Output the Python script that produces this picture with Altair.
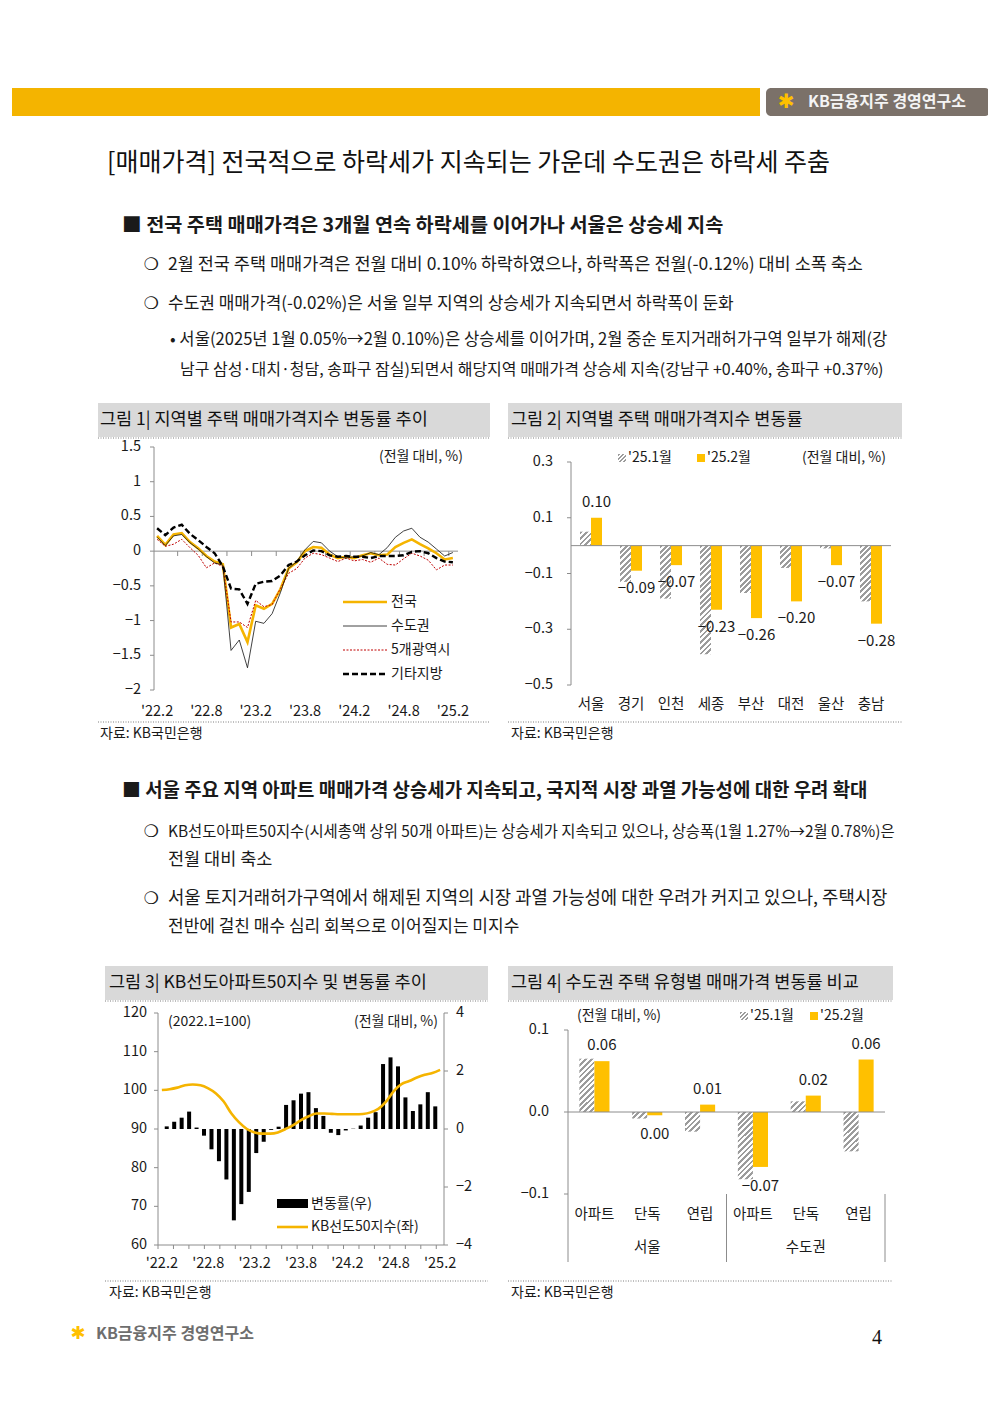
import altair as alt
import pandas as pd

FONT = "Noto Sans CJK KR"
W, H = 980, 1380
INK = "#1a1a1a"
AXIS = "#8c8c8c"
GOLD_BAR = "#FFC000"
GOLD_LINE = "#F5B400"
HATCH_INK = "#9c9c9c"

# ------------------------------------------------------------------ data
# Figure 1: regional house price change (% m/m), '22.2 .. '25.2
fig1_nat = [0.22, 0.09, 0.24, 0.26, 0.13, 0.04, -0.07, -0.15, -0.19, -1.10, -1.05, -1.31,
            -0.78, -0.83, -0.76, -0.55, -0.25, -0.16, 0.00, 0.06, 0.05, -0.05, -0.10, -0.08,
            -0.10, -0.06, -0.03, -0.06, -0.05, 0.06, 0.12, 0.17, 0.10, 0.04, -0.03, -0.12, -0.10]
fig1_cap = [0.20, 0.08, 0.22, 0.24, 0.12, 0.03, -0.08, -0.17, -0.20, -1.43, -1.28, -1.68,
            -1.01, -1.04, -0.90, -0.60, -0.25, -0.15, 0.02, 0.14, 0.12, 0.00, -0.08, -0.10,
            -0.08, -0.07, -0.02, -0.05, 0.05, 0.20, 0.29, 0.33, 0.20, 0.13, 0.03, -0.07, -0.02]
fig1_metro = [0.17, 0.07, 0.10, 0.17, 0.05, -0.06, -0.24, -0.17, -0.22, -1.02, -1.02, -1.10,
              -0.71, -0.80, -0.77, -0.54, -0.32, -0.25, -0.10, -0.03, -0.05, -0.10, -0.15, -0.10,
              -0.14, -0.12, -0.16, -0.10, -0.19, -0.20, -0.11, -0.03, -0.07, -0.13, -0.27, -0.20, -0.20]
fig1_other = [0.33, 0.23, 0.34, 0.38, 0.25, 0.16, 0.06, -0.03, -0.22, -0.54, -0.55, -0.76,
              -0.47, -0.44, -0.43, -0.35, -0.20, -0.15, -0.06, 0.01, 0.00, -0.06, -0.08, -0.07,
              -0.08, -0.08, -0.10, -0.07, -0.07, -0.07, -0.06, -0.01, 0.00, -0.03, -0.10, -0.15, -0.16]
month_idx = list(range(len(fig1_nat)))          # 0 = '22.2 ... 36 = '25.2
xtick_idx = [0, 6, 12, 18, 24, 30, 36]
xtick_lab = ["'22.2", "'22.8", "'23.2", "'23.8", "'24.2", "'24.8", "'25.2"]
fig1_yticks = [1.5, 1, 0.5, 0, -0.5, -1, -1.5, -2]
fig1_ylabs = ["1.5", "1", "0.5", "0", "−0.5", "−1", "−1.5", "−2"]
fig1_minor = [2.5, 5.5, 8.5, 11.5, 14.5, 17.5, 20.5, 23.5, 26.5, 29.5, 32.5, 35.5]

# Figure 2: regional change, Jan vs Feb 2025
SER = ["'25.1월", "'25.2월"]
fig2_regions = ["서울", "경기", "인천", "세종", "부산", "대전", "울산", "충남"]
fig2_jan = [0.05, -0.13, -0.19, -0.39, -0.17, -0.08, -0.01, -0.20]
fig2_feb = [0.10, -0.09, -0.07, -0.23, -0.26, -0.20, -0.07, -0.28]
fig2_yticks = [0.3, 0.1, -0.1, -0.3, -0.5]
fig2_ylabs = ["0.3", "0.1", "−0.1", "−0.3", "−0.5"]

# Figure 3: KB 선도아파트50 index and monthly change
fig3_change = [0.09, 0.25, 0.39, 0.60, 0.05, -0.23, -0.70, -1.11, -1.74, -3.15, -2.59, -2.17,
               -0.83, -0.44, -0.03, 0.08, 0.83, 0.99, 1.22, 1.27, 0.72, 0.45, -0.13, -0.21,
               -0.05, 0.01, 0.12, 0.39, 0.58, 2.24, 2.47, 2.16, 1.09, 0.62, 0.85, 1.27, 0.78]
fig3_index = [100.1, 100.3, 100.7, 101.3, 101.5, 101.3, 100.5, 99.2, 97.1, 94.0, 91.7, 90.0,
              89.1, 88.8, 88.8, 89.1, 90.0, 91.0, 92.3, 93.3, 94.0, 94.0, 93.9, 93.8,
              93.8, 93.8, 93.9, 94.3, 95.2, 97.1, 99.8, 101.6, 102.4, 103.3, 104.0, 104.5, 105.3]
fig3_lticks = [120, 110, 100, 90, 80, 70, 60]
fig3_rticks = [4, 2, 0, -2, -4]
fig3_rlabs = ["4", "2", "0", "−2", "−4"]
fig3_minor = [-0.5, 1.5, 3.5, 5.5, 7.5, 9.5, 11.5, 13.5, 15.5, 17.5, 19.5, 21.5, 23.5,
              25.5, 27.5, 29.5, 31.5, 33.5, 35.5]

# Figure 4: capital-area change by housing type
fig4_cats = ["서울 아파트", "서울 단독", "서울 연립", "수도권 아파트", "수도권 단독", "수도권 연립"]
fig4_types = ["아파트", "단독", "연립", "아파트", "단독", "연립"]
fig4_groups = ["서울", "수도권"]
fig4_group_pos = [1.5, 4.5]
fig4_seps = [3, 6]
fig4_jan = [0.065, -0.008, -0.024, -0.082, 0.013, -0.048]
fig4_feb = [0.062, -0.004, 0.009, -0.067, 0.020, 0.064]
fig4_yticks = [0.1, 0.0, -0.1]
fig4_ylabs = ["0.1", "0.0", "−0.1"]

# ------------------------------------------------------------------ helpers
ONE = pd.DataFrame({"k": [0]})


def P(v):
    """page pixel -> canvas pixel (8px page margin)"""
    return v - 8


def txt(s, x, y, size=14, color=INK, weight="normal", align="left", font=FONT, baseline="middle"):
    return alt.Chart(ONE).mark_text(text=s, fontSize=size, font=font, color=color,
                                    fontWeight=weight, align=align, baseline=baseline).encode(
        x=alt.value(P(x)), y=alt.value(P(y)))


def box(x1, y1, x2, y2, color, **kw):
    return alt.Chart(ONE).mark_rect(color=color, **kw).encode(
        x=alt.value(P(x1)), x2=alt.value(P(x2)), y=alt.value(P(y1)), y2=alt.value(P(y2)))


def seg(x1, y1, x2, y2, color, width=1.0, dash=None):
    kw = dict(color=color, strokeWidth=width)
    if dash:
        kw["strokeDash"] = dash
    return alt.Chart(ONE).mark_rule(**kw).encode(
        x=alt.value(P(x1)), x2=alt.value(P(x2)), y=alt.value(P(y1)), y2=alt.value(P(y2)))


def hatch(w, h, period=4.0):
    """diagonal '////' stripe fill for a w x h pixel box, built as a hard-stop linear gradient"""
    h = max(h, 0.5)
    k = h / w
    s = (1 + k) / (1 + k * k)
    total = (w + h) / 2 ** 0.5
    stops = []
    pos = 0.0
    while pos < total:
        a = pos / total
        b = min(pos + period * 0.5, total) / total
        c = min(pos + period, total) / total
        stops += [alt.GradientStop(color=HATCH_INK, offset=a), alt.GradientStop(color=HATCH_INK, offset=b),
                  alt.GradientStop(color="#ffffff", offset=b), alt.GradientStop(color="#ffffff", offset=c)]
        pos += period
    return alt.LinearGradient(gradient="linear", stops=stops, x1=0, y1=0, x2=s, y2=s * k)


def hatch_box(x1, y1, x2, y2):
    return alt.Chart(ONE).mark_rect(color=hatch(x2 - x1, y2 - y1, 3.0)).encode(
        x=alt.value(P(x1)), x2=alt.value(P(x2)), y=alt.value(P(y1)), y2=alt.value(P(y2)))


def vaxis(x, lo, hi, yscale):
    df = pd.DataFrame({"lo": [lo], "hi": [hi]})
    return alt.Chart(df).mark_rule(color=AXIS, strokeWidth=1).encode(
        x=alt.value(P(x)), y=alt.Y("lo:Q", scale=yscale, axis=None), y2="hi:Q")


def hline_at(v, yscale, x1, x2, color=AXIS):
    df = pd.DataFrame({"v": [v]})
    return alt.Chart(df).mark_rule(color=color, strokeWidth=1).encode(
        y=alt.Y("v:Q", scale=yscale, axis=None), x=alt.value(P(x1)), x2=alt.value(P(x2)))


def yticks(vals, labels, yscale, axis_x, label_x, direction=-1, align="right", size=14.5):
    df = pd.DataFrame({"v": vals, "lab": labels})
    t = alt.Chart(df).mark_rule(color=AXIS, strokeWidth=1).encode(
        x=alt.value(P(axis_x)), x2=alt.value(P(axis_x + 4 * direction)),
        y=alt.Y("v:Q", scale=yscale, axis=None))
    l = alt.Chart(df).mark_text(font=FONT, fontSize=size, color=INK, align=align,
                                baseline="middle").encode(
        x=alt.value(P(label_x)), y=alt.Y("v:Q", scale=yscale, axis=None), text="lab:N")
    return [t, l]


def fig_frame(x1, x2, ytop, ybot, title, tx):
    return [
        box(x1, ytop, x2, ytop + 34, "#d9d9d9"),
        txt(title, tx, ytop + 17, size=17.5, color="#111111"),
        seg(x1, ytop + 35, x2, ytop + 35, "#7f7f7f", 1, [1, 1.5]),
        seg(x1, ybot, x2, ybot, "#7f7f7f", 1, [1, 1.5]),
        txt("자료: KB국민은행", tx, ybot + 12, size=14),
    ]


def hatched_bars(cats, vals, series, xscale, xoff, yscale, bar_w, px_per_unit, field="c"):
    """one layer per hatched bar so that each gets stripes sized to its own box"""
    out = []
    for c, v in zip(cats, vals):
        df = pd.DataFrame({field: [c], "s": [series], "v": [v], "z": [0.0]})
        out.append(alt.Chart(df).mark_bar(color=hatch(bar_w, abs(v) * px_per_unit)).encode(
            x=alt.X(f"{field}:N", scale=xscale, axis=None),
            xOffset=alt.XOffset("s:N", scale=xoff),
            y=alt.Y("v:Q", scale=yscale, axis=None), y2="z:Q"))
    return out


layers = []

# ------------------------------------------------------------------ page furniture
BODY = [
    ("2월 전국 주택 매매가격은 전월 대비 0.10% 하락하였으나, 하락폭은 전월(-0.12%) 대비 소폭 축소", 168, 265, 17.5),
    ("수도권 매매가격(-0.02%)은 서울 일부 지역의 상승세가 지속되면서 하락폭이 둔화", 168, 304, 17),
    ("• 서울(2025년 1월 0.05%→2월 0.10%)은 상승세를 이어가며, 2월 중순 토지거래허가구역 일부가 해제(강", 170, 340, 16.6),
    ("남구 삼성·대치·청담, 송파구 잠실)되면서 해당지역 매매가격 상승세 지속(강남구 +0.40%, 송파구 +0.37%)", 180, 370, 16),
    ("KB선도아파트50지수(시세총액 상위 50개 아파트)는 상승세가 지속되고 있으나, 상승폭(1월 1.27%→2월 0.78%)은", 168, 832, 15.4),
    ("전월 대비 축소", 168, 860, 17.5),
    ("서울 토지거래허가구역에서 해제된 지역의 시장 과열 가능성에 대한 우려가 커지고 있으나, 주택시장", 168, 899, 17.8),
    ("전반에 걸친 매수 심리 회복으로 이어질지는 미지수", 168, 927, 17),
]
layers += [
    box(12, 88, 760, 116, "#F4B400"),
    box(766, 88, 990, 116, "#7b7169", cornerRadius=5),
    txt("✱", 786, 102, size=20, color="#FFC000", font="DejaVu Sans", weight="bold", align="center"),
    txt("KB금융지주 경영연구소", 808, 102, size=16, color="#f4f4f4", weight="bold"),
    txt("[매매가격] 전국적으로 하락세가 지속되는 가운데 수도권은 하락세 주춤", 107, 163, size=25, color="#111111"),
    txt("■ 전국 주택 매매가격은 3개월 연속 하락세를 이어가나 서울은 상승세 지속", 122, 226, size=19.7, weight="bold"),
    txt("■ 서울 주요 지역 아파트 매매가격 상승세가 지속되고, 국지적 시장 과열 가능성에 대한 우려 확대", 122, 791, size=18.9, weight="bold"),
    txt("✱", 78, 1334, size=18, color="#FFC000", font="DejaVu Sans", weight="bold", align="center"),
    txt("KB금융지주 경영연구소", 96, 1334, size=16, color="#6e6e6e", weight="bold"),
    txt("4", 877, 1338, size=20, color="#111111", font="Liberation Serif", align="center"),
]
for y in [265, 304, 832, 899]:
    layers.append(txt("❍", 151, y, size=17, font="DejaVu Sans", align="center", weight="bold"))
for s, x, y, size in BODY:
    layers.append(txt(s, x, y, size=size))

# ------------------------------------------------------------------ figure 1
layers += fig_frame(98, 490, 403, 722, "그림 1| 지역별 주택 매매가격지수 변동률 추이", 100)
c1x = alt.Scale(domain=[-0.5, 36.5], range=[P(153), P(457)], nice=False, zero=False)
c1y = alt.Scale(domain=[-2, 1.5], range=[P(690), P(447)], nice=False, zero=False)
layers.append(vaxis(154, -2, 1.5, c1y))
layers += yticks(fig1_yticks, fig1_ylabs, c1y, 154, 141)
layers.append(hline_at(0, c1y, 154, 458))
df_minor1 = pd.DataFrame({"i": fig1_minor, "z": 0.0})
layers.append(alt.Chart(df_minor1).mark_rule(color=AXIS).encode(
    x=alt.X("i:Q", scale=c1x, axis=None), y=alt.Y("z:Q", scale=c1y, axis=None), y2=alt.value(P(556))))
df_xl1 = pd.DataFrame({"i": xtick_idx, "lab": xtick_lab})
layers.append(alt.Chart(df_xl1).mark_text(font=FONT, fontSize=14.5, color=INK, baseline="middle").encode(
    x=alt.X("i:Q", scale=c1x, axis=None), y=alt.value(P(712)), text="lab:N"))


def fig1_line(vals, color, width, dash=None):
    df = pd.DataFrame({"i": month_idx, "v": vals})
    kw = dict(color=color, strokeWidth=width)
    if dash:
        kw["strokeDash"] = dash
    return alt.Chart(df).mark_line(**kw).encode(
        x=alt.X("i:Q", scale=c1x, axis=None), y=alt.Y("v:Q", scale=c1y, axis=None))


layers += [
    fig1_line(fig1_nat, GOLD_LINE, 2.6),
    fig1_line(fig1_metro, "#c00000", 1.0, [2, 1.5]),
    fig1_line(fig1_cap, "#111111", 0.8),
    fig1_line(fig1_other, "#000000", 2.4, [6, 3]),
]
layers += [
    txt("(전월 대비, %)", 463, 457, size=14, align="right"),
    seg(343, 602, 387, 602, GOLD_LINE, 2.6), txt("전국", 391, 602),
    seg(343, 626, 387, 626, "#111111", 0.8), txt("수도권", 391, 626),
    seg(343, 650, 387, 650, "#c00000", 1.0, [2, 1.5]), txt("5개광역시", 391, 650),
    seg(343, 674, 387, 674, "#000000", 2.4, [6, 3]), txt("기타지방", 391, 674),
]

# ------------------------------------------------------------------ figure 2
layers += fig_frame(508, 902, 403, 722, "그림 2| 지역별 주택 매매가격지수 변동률", 511)
c2x = alt.Scale(domain=fig2_regions, range=[P(571), P(891)], paddingInner=0.45, paddingOuter=0.225)
c2y = alt.Scale(domain=[-0.5, 0.3], range=[P(685), P(462)], nice=False, zero=False)
c2o = alt.Scale(domain=SER)
layers.append(vaxis(571, -0.5, 0.3, c2y))
layers += yticks(fig2_yticks, fig2_ylabs, c2y, 571, 553)
layers += hatched_bars(fig2_regions, fig2_jan, SER[0], c2x, c2o, c2y, 11.0, (685 - 462) / 0.8, field="r")
df2 = pd.DataFrame({"r": fig2_regions, "s": SER[1], "v": fig2_feb, "z": 0.0})
layers.append(alt.Chart(df2).mark_bar(color=GOLD_BAR).encode(
    x=alt.X("r:N", scale=c2x, axis=None),
    xOffset=alt.XOffset("s:N", scale=c2o),
    y=alt.Y("v:Q", scale=c2y, axis=None), y2="z:Q"))
layers.append(hline_at(0, c2y, 571, 891))
for cond, base, dy in [("datum.v >= 0", "bottom", -8), ("datum.v < 0", "top", 10)]:
    layers.append(alt.Chart(df2).transform_filter(cond).mark_text(
        font=FONT, fontSize=15, color=INK, baseline=base, dy=dy).encode(
        x=alt.X("r:N", scale=c2x, axis=None), xOffset=alt.XOffset("s:N", scale=c2o),
        y=alt.Y("v:Q", scale=c2y, axis=None), text=alt.Text("v:Q", format=".2f")))
df2c = pd.DataFrame({"r": fig2_regions})
layers.append(alt.Chart(df2c).mark_text(font=FONT, fontSize=14.5, color=INK, baseline="middle").encode(
    x=alt.X("r:N", scale=c2x, axis=None), y=alt.value(P(705)), text="r:N"))
layers += [
    hatch_box(618, 454, 626, 462), txt(SER[0], 628, 458),
    box(697, 454, 705, 462, GOLD_BAR), txt(SER[1], 707, 458),
    txt("(전월 대비, %)", 886, 458, align="right"),
]

# ------------------------------------------------------------------ figure 3
layers += fig_frame(105, 488, 966, 1281, "그림 3| KB선도아파트50지수 및 변동률 추이", 109)
c3x = alt.Scale(domain=[-0.5, 36.5], range=[P(158), P(444)], nice=False, zero=False)
c3l = alt.Scale(domain=[60, 120], range=[P(1245), P(1013)], nice=False, zero=False)
c3r = alt.Scale(domain=[-4, 4], range=[P(1245), P(1013)], nice=False, zero=False)
layers.append(vaxis(158, 60, 120, c3l))
layers += yticks(fig3_lticks, [str(v) for v in fig3_lticks], c3l, 158, 147)
layers.append(vaxis(444, -4, 4, c3r))
layers += yticks(fig3_rticks, fig3_rlabs, c3r, 444, 456, direction=1, align="left")
layers.append(hline_at(60, c3l, 158, 444))
df_minor3 = pd.DataFrame({"i": fig3_minor, "z": 60.0})
layers.append(alt.Chart(df_minor3).mark_rule(color=AXIS).encode(
    x=alt.X("i:Q", scale=c3x, axis=None), y=alt.Y("z:Q", scale=c3l, axis=None), y2=alt.value(P(1249))))
layers.append(alt.Chart(df_xl1).mark_text(font=FONT, fontSize=14.5, color=INK, baseline="middle").encode(
    x=alt.X("i:Q", scale=c3x, axis=None), y=alt.value(P(1264)), text="lab:N"))
df3 = pd.DataFrame({"i": month_idx, "c": fig3_change, "z": 0.0, "idx": fig3_index})
layers.append(alt.Chart(df3).mark_bar(color="#000000", width=4).encode(
    x=alt.X("i:Q", scale=c3x, axis=None), y=alt.Y("c:Q", scale=c3r, axis=None), y2="z:Q"))
layers.append(alt.Chart(df3).mark_line(color=GOLD_LINE, strokeWidth=2.6, interpolate="monotone").encode(
    x=alt.X("i:Q", scale=c3x, axis=None), y=alt.Y("idx:Q", scale=c3l, axis=None)))
layers += [
    txt("(2022.1=100)", 168, 1022),
    txt("(전월 대비, %)", 438, 1022, align="right"),
    box(277, 1199, 308, 1208, "#000000"), txt("변동률(우)", 311, 1204),
    seg(277, 1227, 308, 1227, GOLD_LINE, 2.6), txt("KB선도50지수(좌)", 311, 1227),
]

# ------------------------------------------------------------------ figure 4
layers += fig_frame(508, 893, 966, 1281, "그림 4| 수도권 주택 유형별 매매가격 변동률 비교", 511)
c4x = alt.Scale(domain=fig4_cats, range=[P(568), P(885)], paddingInner=0.43, paddingOuter=0.215)
c4s = alt.Scale(domain=[0, 6], range=[P(568), P(885)], nice=False, zero=False)
c4y = alt.Scale(domain=[-0.1, 0.1], range=[P(1194), P(1030)], nice=False, zero=False)
layers.append(seg(568, 1030, 568, 1262, AXIS))
layers += yticks(fig4_yticks, fig4_ylabs, c4y, 568, 549)
df4s = pd.DataFrame({"p": fig4_seps, "lo": -0.1})
layers.append(alt.Chart(df4s).mark_rule(color=AXIS).encode(
    x=alt.X("p:Q", scale=c4s, axis=None), y=alt.Y("lo:Q", scale=c4y, axis=None), y2=alt.value(P(1262))))
layers += hatched_bars(fig4_cats, fig4_jan, SER[0], c4x, c2o, c4y, 15.0, (1194 - 1030) / 0.2)
df4 = pd.DataFrame({"c": fig4_cats, "s": SER[1], "v": fig4_feb, "z": 0.0})
layers.append(alt.Chart(df4).mark_bar(color=GOLD_BAR).encode(
    x=alt.X("c:N", scale=c4x, axis=None),
    xOffset=alt.XOffset("s:N", scale=c2o),
    y=alt.Y("v:Q", scale=c4y, axis=None), y2="z:Q"))
layers.append(hline_at(0, c4y, 568, 885))
for cond, base, dy in [("datum.v >= 0", "bottom", -8), ("datum.v < 0", "top", 12)]:
    layers.append(alt.Chart(df4).transform_filter(cond).mark_text(
        font=FONT, fontSize=15, color=INK, baseline=base, dy=dy).encode(
        x=alt.X("c:N", scale=c4x, axis=None), xOffset=alt.XOffset("s:N", scale=c2o),
        y=alt.Y("v:Q", scale=c4y, axis=None), text=alt.Text("v:Q", format=".2f")))
df4c = pd.DataFrame({"c": fig4_cats, "t": fig4_types})
layers.append(alt.Chart(df4c).mark_text(font=FONT, fontSize=14.5, color=INK, baseline="middle").encode(
    x=alt.X("c:N", scale=c4x, axis=None), y=alt.value(P(1215)), text="t:N"))
df4g = pd.DataFrame({"p": fig4_group_pos, "g": fig4_groups})
layers.append(alt.Chart(df4g).mark_text(font=FONT, fontSize=14.5, color=INK, baseline="middle").encode(
    x=alt.X("p:Q", scale=c4s, axis=None), y=alt.value(P(1248)), text="g:N"))
layers += [
    txt("(전월 대비, %)", 577, 1016),
    hatch_box(740, 1012, 748, 1020), txt(SER[0], 750, 1016),
    box(810, 1012, 818, 1020, GOLD_BAR), txt(SER[1], 820, 1016),
]

chart = alt.layer(*layers).resolve_scale(
    x="independent", y="independent", color="independent", xOffset="independent"
).properties(
    width=W, height=H, padding=0, autosize=alt.AutoSizeParams(type="none")
).configure_view(strokeWidth=0)

chart.save("out.html", embed_options={"renderer": "svg", "actions": False})
